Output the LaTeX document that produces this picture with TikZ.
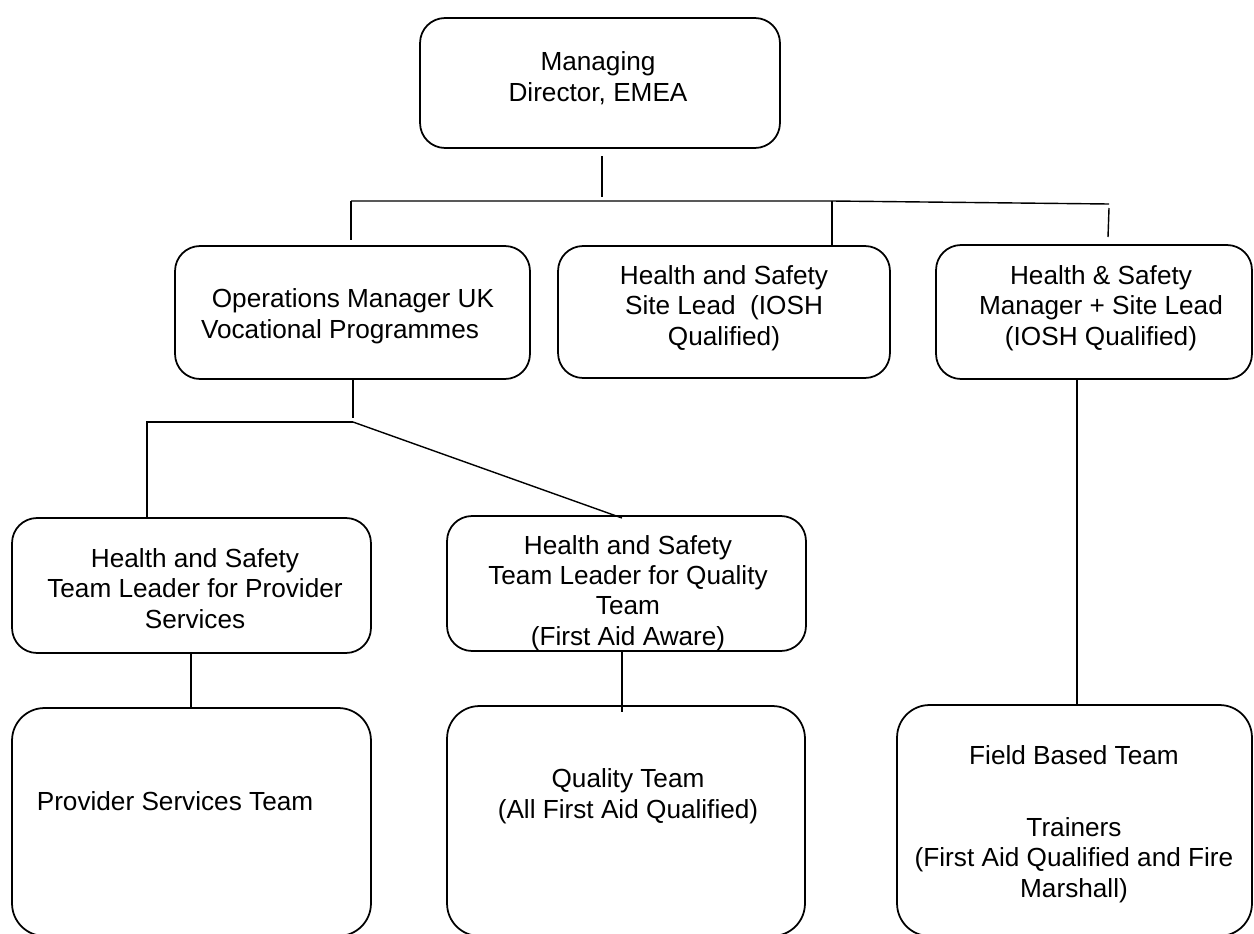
\documentclass[tikz,border=0pt]{standalone}
\usepackage{fontspec}
\setmainfont{Liberation Sans}

\begin{document}
\begin{tikzpicture}[
    x=0.02cm, y=-0.02cm,
    box/.style={
      rectangle,
      draw=black,
      rounded corners=0.5cm,
      line width=1pt,
      inner sep=0pt
    },
    teambox/.style={
      box,
      rounded corners=0.65cm,
      minimum height=4.6cm
    },
    txt/.style={
      align=center,
      anchor=base,
      inner sep=0pt,
      font=\fontsize{14.9}{17.1}\selectfont
    },
    link/.style={
      line width=0.8pt
    }
  ]

    \useasboundingbox (0,0) rectangle (1254,933);

    % Top row: director
    \node (md) [box, minimum width=7.2cm, minimum height=2.6cm] at (600,83) {};
    \node (mdtext) [txt] at (598,101) {Managing\\Director, EMEA};

    % Second row: managers and site lead
    \node (ops) [box, minimum width=7.1cm, minimum height=2.66cm] at (352.5,312.5) {};
    \node (opstext) [txt] at (353,338) {Operations Manager UK\\Vocational Programmes\hspace*{0.52cm}};

    \node (site) [box, minimum width=6.64cm, minimum height=2.64cm] at (724,312) {};
    \node (sitetext) [txt] at (724,345) {Health and Safety\\Site Lead~~(IOSH\\Qualified)};

    \node (mgr) [box, minimum width=6.32cm, minimum height=2.68cm] at (1094,312) {};
    \node (mgrtext) [txt] at (1101,345) {Health \& Safety\\Manager + Site Lead\\(IOSH Qualified)};

    % Third row: team leaders
    \node (tlp) [box, minimum width=7.18cm, minimum height=2.7cm] at (191.5,585.5) {};
    \node (tlptext) [txt] at (195,628) {Health and Safety\\Team Leader for Provider\\Services};

    \node (tlq) [box, minimum width=7.18cm, minimum height=2.7cm] at (626.5,583.5) {};
    \node (tlqtext) [txt] at (628,645) {Health and Safety\\Team Leader for Quality\\Team\\(First Aid Aware)};

    % Bottom row: teams
    \node (pst) [teambox, minimum width=7.18cm, minimum height=4.56cm] at (191.5,822) {};
    \node (psttext) [txt] at (175,810) {Provider Services Team};

    \node (qt) [teambox, minimum width=7.16cm] at (626,821) {};
    \node (qttext) [txt] at (628,818) {Quality Team\\(All First Aid Qualified)};

    \node (fbt) [teambox, minimum width=7.1cm, minimum height=4.62cm] at (1074.5,820.5) {};
    \node (fbttext) [txt] at (1074,897) {Field Based Team\\[0.84cm]Trainers\\(First Aid Qualified and Fire\\Marshall)};

    % Junctions
    \coordinate (top) at (602,201);
    \coordinate (topl) at (351,201);
    \coordinate (topm) at (832,201);
    \coordinate (topr) at (1109,204);
    \coordinate (mid) at (353,422);
    \coordinate (midl) at (147,422);

    % Connectors
    \draw [link] (602,156) -- (602,197);
    \draw [link] (topl) -- (topm) -- (topr);
    \draw [link] (topl) -- (351,240);
    \draw [link] (topm) -- (site.north -| topm);
    \draw [link] (1109,208) -- (1108,237);

    \draw [link] (ops.south -| mid) -- (353,418);
    \draw [link] (mid) -- (midl) -- (tlp.north -| midl);
    \draw [link] (mid) -- (622,518);

    \draw [link] (tlp.south -| 191,0) -- (pst.north -| 191,0);
    \draw [link] (tlq.south -| 622,0) -- (622,712);
    \draw [link] (mgr.south -| 1077,0) -- (fbt.north -| 1077,0);

  \end{tikzpicture}
\end{document}
